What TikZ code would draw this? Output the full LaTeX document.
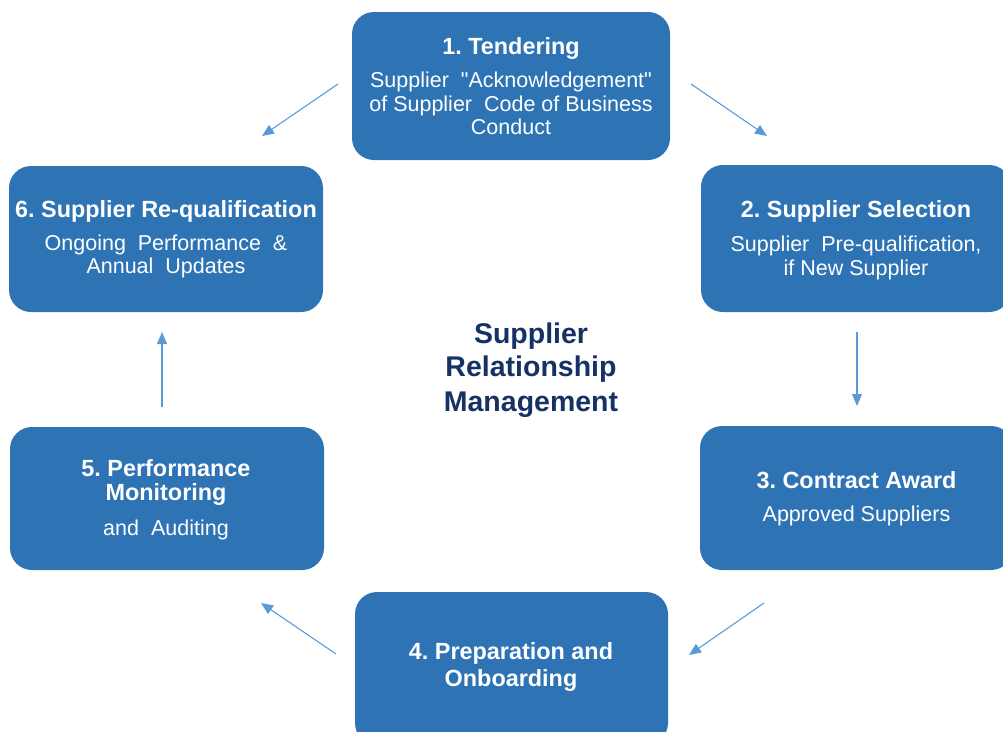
\documentclass[tikz,border=0pt]{standalone}
\usepackage{fontspec}
\setmainfont{Liberation Sans}
\newfontfamily\plainsans{Liberation Sans}
\usetikzlibrary{arrows.meta}
\definecolor{boxblue}{RGB}{46,116,181}
\definecolor{arrowblue}{RGB}{91,155,213}
\definecolor{navy}{RGB}{22,50,100}
\frenchspacing
\begin{document}
\begin{tikzpicture}[x=1pt,y=-1pt,
  stagebox/.style={fill=boxblue,draw=none,rounded corners=22pt},
  ttl/.style={anchor=base,text=white,font=\fontsize{23.4}{25}\selectfont\bfseries\frenchspacing,inner sep=0pt},
  bdy/.style={anchor=base,text=white,font=\plainsans\fontsize{21.5}{24}\selectfont\frenchspacing,inner sep=0pt},
  ctr/.style={anchor=base,text=navy,font=\fontsize{28.5}{34}\selectfont\bfseries,inner sep=0pt},
  flow/.style={draw=arrowblue,line width=1.1pt,-{Triangle[length=12pt,width=10pt]}}]
\useasboundingbox (0,0) rectangle (1003,731);
\begin{scope}
\clip (0,0) rectangle (1003,731);
% boxes
\path[stagebox] (352,12) rectangle (670,160) coordinate (b1);
\path[stagebox] (701,165) rectangle (1011,312) coordinate (b2);
\path[stagebox] (700,426) rectangle (1013,570) coordinate (b3);
\path[stagebox] (355,592) rectangle (668,745) coordinate (b4);
\path[stagebox] (10,427) rectangle (324,570) coordinate (b5);
\path[stagebox] (9,166) rectangle (323,312) coordinate (b6);
\end{scope}
% box 1
\node[ttl] (t1) at (511,54) {1. Tendering};
\node[bdy] (t1a) at (511,87.5) {Supplier \ "Acknowledgement"};
\node[bdy] (t1b) at (511,111.5) {of Supplier \ Code of Business};
\node[bdy] (t1c) at (511,134.5) {Conduct};
% box 2
\node[ttl] (t2) at (856,217.5) {2. Supplier Selection};
\node[bdy] (t2a) at (856,251) {Supplier \ Pre-qualification,};
\node[bdy] (t2b) at (856,275) {if New Supplier};
% box 3
\node[ttl] (t3) at (856.5,488.3) {3. Contract Award};
\node[bdy] (t3a) at (856.5,521.7) {Approved Suppliers};
% box 4
\node[ttl] (t4) at (511,659.3) {4. Preparation and};
\node[ttl] (t4a) at (511,686.7) {Onboarding};
% box 5
\node[ttl] (t5) at (166,476) {5. Performance};
\node[ttl] (t5a) at (166,500.7) {Monitoring};
\node[bdy] (t5b) at (166,535) {and \ Auditing};
% box 6
\node[ttl] (t6) at (166,217.3) {6. Supplier Re-qualification};
\node[bdy] (t6a) at (166,250.7) {Ongoing \ Performance \ \&};
\node[bdy] (t6b) at (166,273.3) {Annual \ Updates};
% centre
\node[ctr] (c1) at (531,343.3) {Supplier};
\node[ctr] (c2) at (531,376.7) {Relationship};
\node[ctr] (c3) at (531,411.7) {Management};
% arrows
\coordinate (a1s) at (338,84);  \coordinate (a1e) at (262,136);
\coordinate (a2s) at (691,84);  \coordinate (a2e) at (767,136);
\coordinate (a3s) at (857,332); \coordinate (a3e) at (857,406);
\coordinate (a4s) at (764,603); \coordinate (a4e) at (689,655);
\coordinate (a5s) at (336,654); \coordinate (a5e) at (261,603);
\coordinate (a6s) at (162,407); \coordinate (a6e) at (162,332);
\draw[flow] (a1s) -- (a1e);
\draw[flow] (a2s) -- (a2e);
\draw[flow] (a3s) -- (a3e);
\draw[flow] (a4s) -- (a4e);
\draw[flow] (a5s) -- (a5e);
\draw[flow] (a6s) -- (a6e);
\end{tikzpicture}
\end{document}
